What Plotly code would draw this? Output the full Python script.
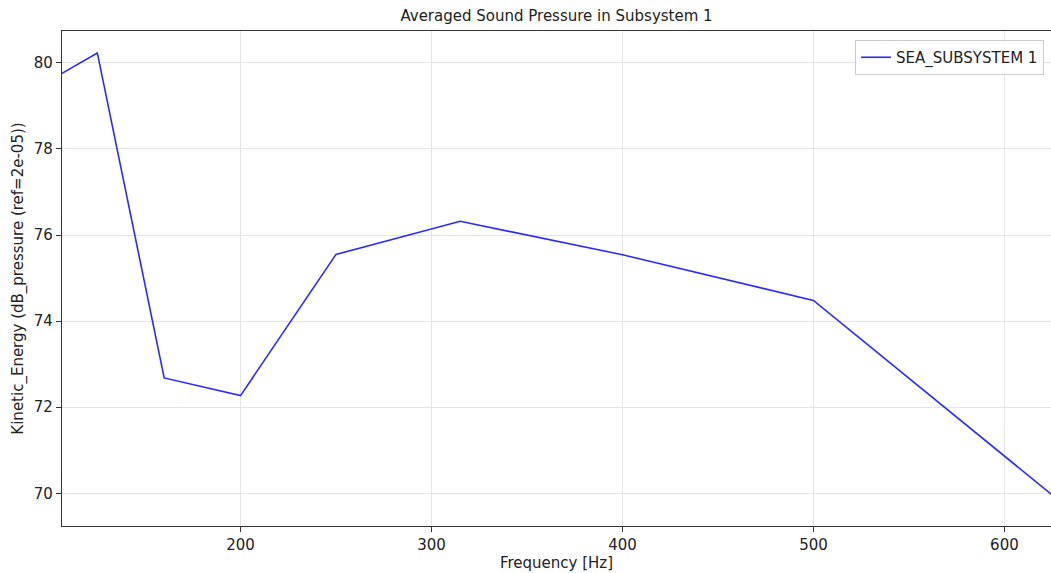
import plotly.graph_objects as go

# Third-octave band centre frequencies and averaged SPL of subsystem 1
frequency_hz = [100, 125, 160, 200, 250, 315, 400, 500, 630]
spl_db = [79.59, 80.23, 72.68, 72.27, 75.55, 76.32, 75.54, 74.48, 69.78]

series_name = "SEA_SUBSYSTEM 1"
x_ticks = [200, 300, 400, 500, 600]
y_ticks = [70, 72, 74, 76, 78, 80]

W, H = 1051, 573
ML, MR, MT, MB = 62, 0, 31, 47
FONT = "DejaVu Sans"
FS = 15
TXT = "#222222"

fig = go.Figure()
fig.add_trace(go.Scatter(
    x=frequency_hz, y=spl_db, mode="lines", name=series_name,
    line=dict(color="#2a2aff", width=1.6),
))

axis_common = dict(
    showgrid=True, gridcolor="#e4e4e4", gridwidth=1,
    showline=True, linecolor="#333333", linewidth=1.2,
    ticks="outside", ticklen=5, tickwidth=1, tickcolor="#333333",
    tickfont=dict(family=FONT, size=FS, color=TXT),
    zeroline=False,
)

fig.update_xaxes(
    **axis_common, range=[106.5, 624.4], tickvals=x_ticks, mirror=True,
    title=dict(text="Frequency [Hz]", font=dict(family=FONT, size=FS, color=TXT), standoff=4),
)
fig.update_yaxes(
    **axis_common, range=[69.24, 80.74], tickvals=y_ticks,
    title=dict(text="Kinetic_Energy (dB_pressure (ref=2e-05))",
               font=dict(family=FONT, size=FS, color=TXT), standoff=6),
)

plot_w = W - ML - MR
plot_h = H - MT - MB
fig.update_layout(
    width=W, height=H,
    margin=dict(l=ML, r=MR, t=MT, b=MB),
    paper_bgcolor="white", plot_bgcolor="white",
    font=dict(family=FONT, size=FS, color=TXT),
    title=dict(text="Averaged Sound Pressure in Subsystem 1",
               x=(ML + plot_w / 2) / W, xanchor="center",
               y=1 - 16 / H, yanchor="middle",
               font=dict(family=FONT, size=FS, color=TXT)),
    showlegend=True,
    legend=dict(
        x=(855 - ML) / plot_w, xanchor="left",
        y=1 - 9 / plot_h, yanchor="top",
        bgcolor="rgba(255,255,255,0.85)", bordercolor="#cccccc", borderwidth=1,
        font=dict(family=FONT, size=FS, color=TXT),
    ),
)

fig.write_html("out.html")
